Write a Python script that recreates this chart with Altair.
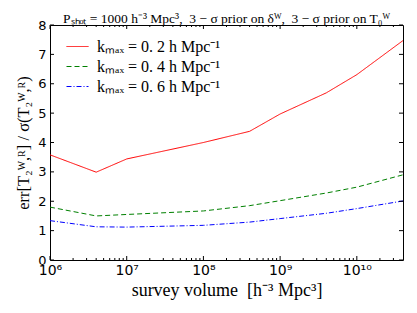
import altair as alt
import pandas as pd

# ---- data ----
volumes = [1e6, 4e6, 1e7, 1e8, 4e8, 1e9, 4e9, 1e10, 4e10]
err_k02 = [3.58, 2.99, 3.44, 4.00, 4.38, 4.97, 5.69, 6.31, 7.47]
err_k04 = [1.80, 1.50, 1.55, 1.67, 1.85, 2.02, 2.28, 2.48, 2.90]
err_k06 = [1.34, 1.13, 1.12, 1.18, 1.29, 1.41, 1.59, 1.75, 2.01]
series_labels = ["kₘₐₓ = 0. 2 h Mpc⁻¹", "kₘₐₓ = 0. 4 h Mpc⁻¹", "kₘₐₓ = 0. 6 h Mpc⁻¹"]
series_colors = ["#ff0000", "#008000", "#0000ff"]
series_dashes = [[1, 0], [5, 3], [5, 2, 1, 2]]

y_ticks = [0, 1, 2, 3, 4, 5, 6, 7, 8]
x_major = [1e6, 1e7, 1e8, 1e9, 1e10]
x_minor = [2e6, 3e6, 4e6, 5e6, 6e6, 7e6, 8e6, 9e6,
           2e7, 3e7, 4e7, 5e7, 6e7, 7e7, 8e7, 9e7,
           2e8, 3e8, 4e8, 5e8, 6e8, 7e8, 8e8, 9e8,
           2e9, 3e9, 4e9, 5e9, 6e9, 7e9, 8e9, 9e9,
           2e10, 3e10]

SERIF = "'Liberation Serif', 'Times New Roman', serif"

rows = []
for lab, vals in zip(series_labels, [err_k02, err_k04, err_k06]):
    for v, e in zip(volumes, vals):
        rows.append({"series": lab, "volume": v, "err": e})
df = pd.DataFrame(rows)

W, H = 353, 235
xscale = alt.Scale(type="log", domain=[1e6, 4e10], nice=False)
yscale = alt.Scale(domain=[0, 8], nice=False, zero=False)

xaxis = alt.Axis(values=x_major, grid=False, ticks=False, domain=False,
                 labelExpr="'10' + ['⁰','¹','²','³','⁴','⁵','⁶','⁷','⁸','⁹','¹⁰'][round(log(datum.value)/LN10)]",
                 labelFont="DejaVu Sans", labelFontSize=14, labelColor="black",
                 labelPadding=3, labelFlush=False, labelOverlap=False,
                 title="survey volume \u00a0[h⁻³ Mpc³]", titleFont=SERIF,
                 titleFontSize=18, titleFontWeight="normal", titleColor="black",
                 titlePadding=4)
yaxis = alt.Axis(values=y_ticks, grid=False, ticks=False, domain=False,
                 labelFont="DejaVu Sans", labelFontSize=13, labelColor="black",
                 labelPadding=4, labelFlush=False, labelOverlap=False,
                 title="err[T₂ᵂ,ᴿ] / σ(T₂ᵂ,ᴿ)", titleFont=SERIF,
                 titleFontSize=16.5, titleFontWeight="normal", titleColor="black",
                 titlePadding=6)

leg = alt.Legend(title=None, orient="none", legendX=16, legendY=10,
                 symbolType="stroke", symbolSize=484, symbolStrokeWidth=1,
                 labelFont=SERIF, labelFontSize=16,
                 labelColor="black", padding=0, rowPadding=0, labelOffset=8)

lines = alt.Chart(df).mark_line(strokeWidth=1).encode(
    x=alt.X("volume:Q", scale=xscale, axis=xaxis),
    y=alt.Y("err:Q", scale=yscale, axis=yaxis),
    color=alt.Color("series:N", scale=alt.Scale(domain=series_labels, range=series_colors),
                    legend=leg),
    strokeDash=alt.StrokeDash("series:N", scale=alt.Scale(domain=series_labels, range=series_dashes),
                              legend=leg),
)

xmaj_df = pd.DataFrame({"volume": x_major})
xmin_df = pd.DataFrame({"volume": x_minor})
y_df = pd.DataFrame({"err": y_ticks})

def xticks(data, y0, y1):
    return alt.Chart(data).mark_rule(color="black", strokeWidth=1).encode(
        x=alt.X("volume:Q", scale=xscale, axis=xaxis),
        y=alt.value(y0), y2=alt.value(y1))

def yticks(x0, x1):
    return alt.Chart(y_df).mark_rule(color="black", strokeWidth=1).encode(
        y=alt.Y("err:Q", scale=yscale, axis=yaxis),
        x=alt.value(x0), x2=alt.value(x1))

chart = alt.layer(
    lines,
    xticks(xmaj_df, H, H - 4), xticks(xmaj_df, 0, 4),
    xticks(xmin_df, H, H - 2), xticks(xmin_df, 0, 2),
    yticks(0, 4), yticks(W - 4, W),
).properties(
    width=W, height=H,
    autosize=alt.AutoSizeParams(type="none"),
    padding={"left": 42, "top": 17, "right": 6, "bottom": 45},
    title=alt.TitleParams("Pₛₕₒₜ = 1000 h⁻³ Mpc³, \u00a03 − σ prior on δᵂ, \u00a03 − σ prior on T₀ᵂ",
                          font=SERIF, fontSize=13.5, fontWeight="normal",
                          color="black", offset=3, frame="group", dy=9),
).configure_view(stroke="black", strokeWidth=1)

chart.save("out.html", embed_options={"renderer": "svg", "actions": False})
